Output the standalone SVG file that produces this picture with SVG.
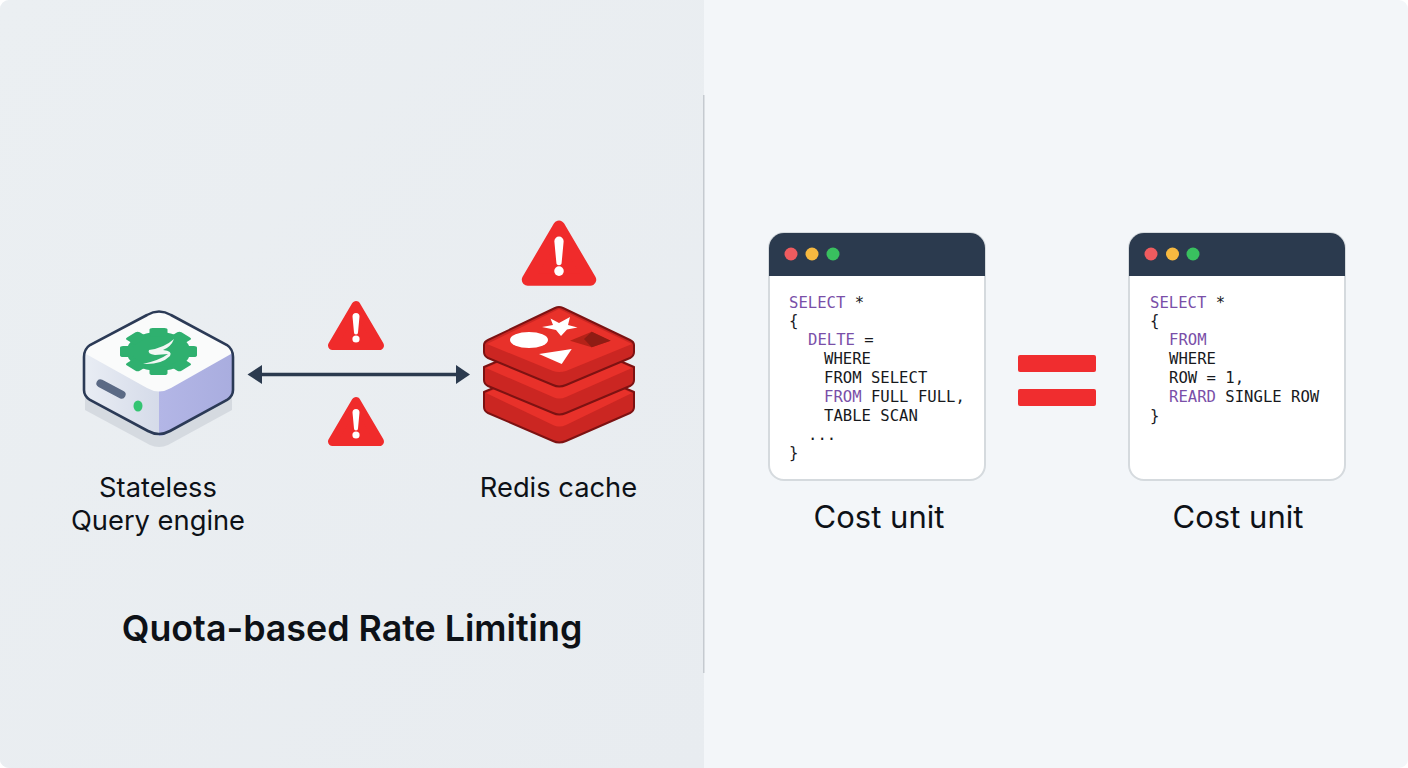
<svg xmlns="http://www.w3.org/2000/svg" width="1408" height="768" viewBox="0 0 1408 768">
<style>
.lbl{font-family:Inter,"Liberation Sans",sans-serif;fill:#0d1117;text-anchor:middle}
.code{font-family:"DejaVu Sans Mono",monospace;font-size:15.6px;fill:#17191d}
.kw{fill:#7a4fa8}
.warn{fill:#f02b2b;stroke:#f02b2b;stroke-linejoin:round;stroke-width:9}
.warnw{fill:#fff}
.win{fill:#fff;stroke:#d5dade;stroke-width:2}
.bar{fill:#2b3a4e}
.tier{fill:#cb2622;stroke:#7d1212;stroke-width:2;stroke-linejoin:round}
.face{fill:#e8312a}
</style>
<defs>
<linearGradient id="lg" x1="0" y1="0" x2="1" y2="1"><stop offset="0" stop-color="#ebeff2"/><stop offset="1" stop-color="#e8ecf0"/></linearGradient>
<linearGradient id="sv" x1="0" y1="0" x2="1" y2="0"><stop offset="0" stop-color="#e9edf4"/><stop offset="1" stop-color="#d5dbe9"/></linearGradient>
<linearGradient id="sv2" x1="0" y1="0" x2="1" y2="0"><stop offset="0" stop-color="#b3b6e6"/><stop offset="1" stop-color="#a9addf"/></linearGradient>
<g id="w1"><path class="warn" d="M0 -19.500L23.500 20.500H-23.500Z"/><path class="warnw" d="M-3.500 -8.500A3.500 3.500 0 0 1 3.500 -8.500L2 7.500A2 2 0 0 1 -2 7.500Z"/><circle class="warnw" cx="0" cy="14" r="3.600"/></g>
<g id="win">
<rect class="win" x="0" y="0" width="216" height="247" rx="15"/>
<path class="bar" d="M0 43V15A15 15 0 0 1 15 0H201A15 15 0 0 1 216 15V43Z"/>
</g>
<clipPath id="page"><rect width="1408" height="768" rx="9"/></clipPath>
</defs>
<rect width="1408" height="768" fill="#ffffff"/>
<g clip-path="url(#page)">
<rect width="1408" height="768" fill="#f3f6f9"/>
<path d="M0 0H704V768H0Z" fill="url(#lg)"/>
</g>
<rect x="703" y="95" width="1.500" height="578" fill="#c5cad0"/>

<g id="connectors">
<path d="M262 374.500H456" stroke="#2b3a4e" stroke-width="3.400" fill="none"/>
<path d="M247.500 374.500L262 365V384Z" fill="#2b3a4e"/>
<path d="M470 374.500L456 365V384Z" fill="#2b3a4e"/>
</g>

<g id="query-engine">
<path d="M85 410L150 445Q159 449 168 445L232 410V378H85Z" fill="#d5dae0"/>
<path d="M84 354V391Q84 397 90 400L150 431Q159 436 159 436V385L90 350Z" fill="url(#sv)"/>
<path d="M159 436Q165 436 170 431L227 400Q233 396 233 390V352L159 385Z" fill="url(#sv2)"/>
<path d="M86 354L147 388Q159 395 171 388L231 354L232 348L171 315Q159 309 147 315L88 347Z" fill="#fafbfb"/>
<path d="M147 315Q159 308 171 315L227 345Q233 349 233 357V390Q233 396 227 400L170 431Q159 437 148 431L90 400Q84 396 84 390V357Q84 349 90 345Z" fill="none" stroke="#2b3a56" stroke-width="2.600"/>
<g transform="translate(158.500,351.500) scale(1,.61)" fill="#2fb06f">
<circle r="32"/>
<rect x="-9" y="-38.500" width="18" height="14" rx="3"/>
<rect x="-9" y="-38.500" width="18" height="14" rx="3" transform="rotate(45)"/>
<rect x="-9" y="-38.500" width="18" height="14" rx="3" transform="rotate(90)"/>
<rect x="-9" y="-38.500" width="18" height="14" rx="3" transform="rotate(135)"/>
<rect x="-9" y="-38.500" width="18" height="14" rx="3" transform="rotate(180)"/>
<rect x="-9" y="-38.500" width="18" height="14" rx="3" transform="rotate(225)"/>
<rect x="-9" y="-38.500" width="18" height="14" rx="3" transform="rotate(270)"/>
<rect x="-9" y="-38.500" width="18" height="14" rx="3" transform="rotate(315)"/>
</g>
<path d="M174 339Q164 348 149 350Q147 354 155 355L168 354Q160 360 143 364Q161 365 170 356Q173 351 163 350Q171 347 174 339Z" fill="#f2f7f4"/>
<rect x="95" y="385" width="32" height="8" rx="4" fill="#5b6a85" transform="rotate(28 111 389)"/>
<ellipse cx="138" cy="406" rx="4.500" ry="5.500" fill="#34c472"/>
</g>

<g id="redis">
<g id="redis-bottom">
<path class="tier" d="M484 392V407Q484 411 488 413L553 441Q559 444 566 441L630 413Q634 411 634 407V392L559 360Z"/>
<path class="face" d="M486 393L553 425Q559 428 566 425L632 393L559 360Z"/>
</g>
<g id="redis-middle">
<path class="tier" d="M484 367V380Q484 384 488 386L553 413Q559 416 566 413L630 386Q634 384 634 380V367L559 335Z"/>
<path class="face" d="M486 368L553 397Q559 400 566 397L632 368L559 335Z"/>
</g>
<g id="redis-top">
<path class="tier" d="M484 345V352Q484 356 488 358L553 385Q559 388 566 385L630 358Q634 356 634 352V345Q634 342 630 340L563 308Q559 306 555 308L488 340Q484 342 484 345Z"/>
<path class="face" d="M487 344L553 371Q559 373 566 371L632 344L559 309Z"/>
<ellipse cx="529" cy="340" rx="19" ry="8" fill="#fff"/>
<path d="M550.500 318.500L559 323L570 317L568 325L577.500 327.500L567 329.500L561 336L556 330L542 327L553 325Z" fill="#fff"/>
<path d="M571.700 349L539 354L561.700 364Z" fill="#fff"/>
<path d="M570 340.700L591.700 331.700L610.700 340.700L591.700 347.300Z" fill="#b52218"/>
<path d="M591.700 331.700L610.700 340.700L591.700 347.300L584 339Z" fill="#8f1c14"/>
</g>
</g>

<use id="warn-large" href="#w1" transform="translate(559,252.500) scale(1.330)"/>
<use id="warn-top" href="#w1" transform="translate(356,325)"/>
<use id="warn-bottom" href="#w1" transform="translate(356,421)"/>

<text class="lbl" x="158" y="497" font-size="27.300">Stateless</text>
<text class="lbl" x="158" y="530" font-size="27.300">Query engine</text>
<text class="lbl" x="558.500" y="497" font-size="27.300">Redis cache</text>
<text class="lbl" x="352" y="641" font-size="35.800" font-weight="600">Quota-based Rate Limiting</text>

<g id="window-left" transform="translate(769,233)">
<use href="#win"/>
<circle cx="22" cy="21" r="6.500" fill="#ef5b5f"/><circle cx="43" cy="21" r="6.500" fill="#f7b940"/><circle cx="64" cy="21" r="6.500" fill="#39c05f"/>
</g>
<text class="code" xml:space="preserve"><tspan class="kw" x="789" y="308">SELECT</tspan><tspan> *</tspan><tspan x="789" y="326">{</tspan><tspan class="kw" x="808" y="345">DELTE</tspan><tspan> =</tspan><tspan x="824" y="364">WHERE</tspan><tspan x="824" y="383">FROM SELECT</tspan><tspan class="kw" x="824" y="402">FROM</tspan><tspan> FULL FULL,</tspan><tspan x="824" y="421">TABLE SCAN</tspan><tspan x="808" y="440">...</tspan><tspan x="789" y="458">}</tspan></text>

<g id="equals" fill="#f02d2f">
<rect x="1018" y="355" width="78" height="17" rx="2"/>
<rect x="1018" y="389" width="78" height="17" rx="2"/>
</g>

<g id="window-right" transform="translate(1129,233)">
<use href="#win"/>
<circle cx="22" cy="21" r="6.500" fill="#ef5b5f"/><circle cx="43.500" cy="21" r="6.500" fill="#f7b940"/><circle cx="64" cy="21" r="6.500" fill="#39c05f"/>
</g>
<text class="code" xml:space="preserve"><tspan class="kw" x="1150" y="308">SELECT</tspan><tspan> *</tspan><tspan x="1150" y="326">{</tspan><tspan class="kw" x="1169" y="345">FROM</tspan><tspan x="1169" y="364">WHERE</tspan><tspan x="1169" y="383">ROW = 1,</tspan><tspan class="kw" x="1169" y="402">REARD</tspan><tspan> SINGLE ROW</tspan><tspan x="1150" y="421">}</tspan></text>

<text class="lbl" x="879" y="528" font-size="31">Cost unit</text>
<text class="lbl" x="1238" y="528" font-size="31">Cost unit</text>
</svg>
